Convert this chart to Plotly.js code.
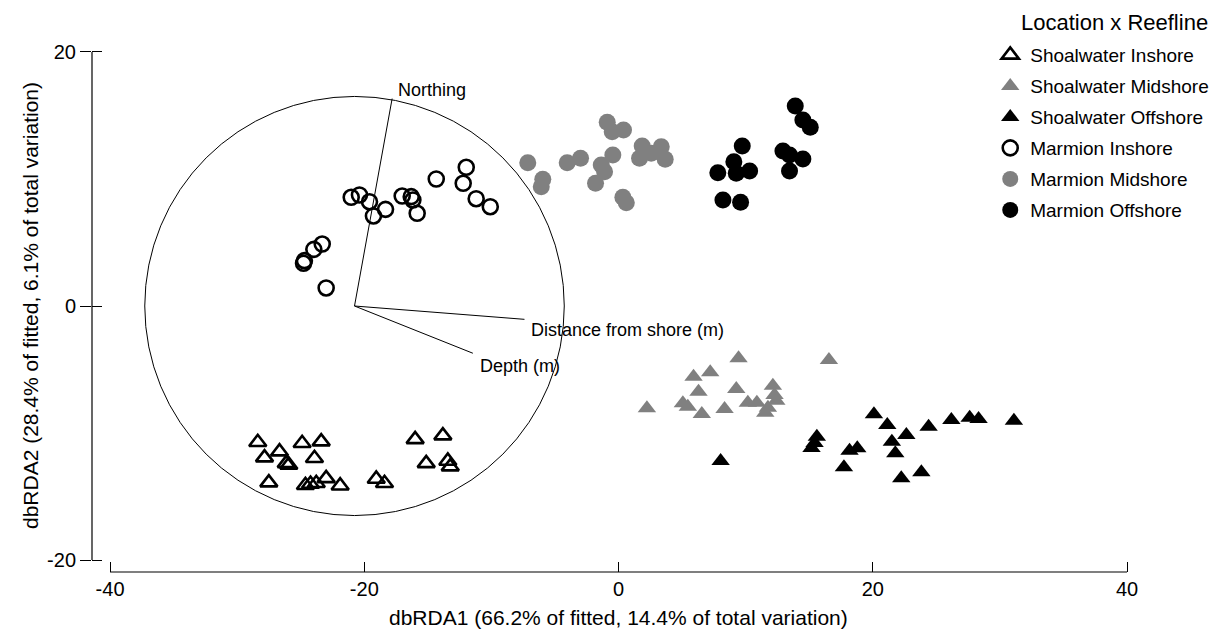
<!DOCTYPE html>
<html>
<head>
<meta charset="utf-8">
<script src="https://cdn.plot.ly/plotly-3.0.1.min.js"></script>
<style>html,body{margin:0;padding:0;background:#fff;}#chart{width:1229px;height:638px;}</style>
</head>
<body>
<div id="chart"></div>
<script>
// ---- Data ----
const swInshoreX = [-28.38,-27.85,-26.67,-26.14,-25.94,-24.89,-23.39,-23.92,-27.51,-24.63,-24.23,-23.78,-23.00,-21.90,-19.06,-18.41,-16.00,-13.82,-15.13,-13.43,-13.24];
const swInshoreY = [-10.73,-11.94,-11.47,-12.39,-12.52,-10.81,-10.68,-11.99,-13.91,-14.12,-14.02,-13.96,-13.57,-14.15,-13.62,-13.96,-10.50,-10.21,-12.39,-12.20,-12.65];

const swMidX = [2.23,5.90,7.21,9.44,16.55,6.29,5.06,5.45,6.55,8.34,9.26,10.17,10.88,12.14,12.27,12.41,11.75,11.54];
const swMidY = [-8.06,-5.57,-5.22,-4.12,-4.25,-6.75,-7.66,-7.93,-8.50,-8.11,-6.54,-7.61,-7.61,-6.28,-7.01,-7.46,-8.01,-8.40];

const swOffX = [20.09,21.14,22.64,21.50,21.77,24.39,26.18,27.62,28.32,31.10,15.60,15.42,15.18,18.17,18.78,17.73,22.24,23.82,8.03];
const swOffY = [-8.53,-9.37,-10.16,-10.69,-11.60,-9.50,-8.98,-8.80,-8.90,-9.03,-10.29,-10.79,-11.18,-11.39,-11.20,-12.70,-13.57,-13.09,-12.20];

const mInshoreX = [-21.03,-20.38,-19.59,-19.28,-18.33,-17.02,-16.31,-16.18,-15.84,-14.34,-11.98,-12.22,-11.20,-10.09,-23.31,-23.97,-24.71,-24.78,-23.00];
const mInshoreY = [8.56,8.74,8.21,7.09,7.61,8.66,8.61,8.35,7.30,10.00,10.92,9.66,8.45,7.82,4.88,4.46,3.57,3.36,1.42];

const mMidX = [-0.89,-0.50,0.39,-7.14,-4.04,-2.99,-0.45,-1.36,-1.10,-1.81,-5.96,-6.08,0.34,0.61,1.86,3.36,1.65,2.57,3.67];
const mMidY = [14.46,13.72,13.86,11.28,11.28,11.63,11.89,11.10,10.57,9.66,9.98,9.39,8.56,8.13,12.60,12.54,11.63,12.02,11.55];

const mOffX = [13.90,14.50,15.08,9.73,12.93,13.45,14.50,13.45,9.07,7.81,9.26,10.31,8.21,9.60];
const mOffY = [15.75,14.65,14.07,12.60,12.20,11.89,11.57,10.63,11.36,10.50,10.45,10.63,8.35,8.17];

// vector overlay (correlation circle)
const circleCenter = [-20.77, 0];
const circleRadius = 16.5;
const vecNames = ["Northing", "Distance from shore (m)", "Depth (m)"];
const vecDX = [2.96, 13.37, 9.31];
const vecDY = [16.33, -1.05, -3.72];
const vecLabelShift = [[4, 9], [5, -11], [5, -13]];

const seriesNames = ["Shoalwater Inshore","Shoalwater Midshore","Shoalwater Offshore","Marmion Inshore","Marmion Midshore","Marmion Offshore"];
const legendTitle = "Location x Reefline";
const xTitle = "dbRDA1 (66.2% of fitted, 14.4% of total variation)";
const yTitle = "dbRDA2 (28.4% of fitted, 6.1% of total variation)";
const xTicks = [-40,-20,0,20,40];
const yTicks = [-20,0,20];

// ---- Build ----
const FONT = "Liberation Sans, Arial, sans-serif";
const grey = "#808080";
function pts(name, x, y, symbol, color, open, gi) {
  const tri = symbol.indexOf("triangle") === 0;
  return {
    type: "scatter", mode: "markers", name: name, x: x, y: y,
    legendgroup: "g" + gi,
    marker: open
      ? {symbol: symbol, size: 15, color: color, line: {color: color, width: 2.6}}
      : {symbol: symbol, size: tri ? 16 : 17, color: color, line: {width: 0}},
    hoverinfo: "x+y"
  };
}

const traces = [];
for (let i = 0; i < vecNames.length; i++) {
  traces.push({
    type: "scatter", mode: "lines", showlegend: false, hoverinfo: "skip",
    x: [circleCenter[0], circleCenter[0] + vecDX[i]],
    y: [circleCenter[1], circleCenter[1] + vecDY[i]],
    line: {color: "#000", width: 1}
  });
}
traces.push(pts(seriesNames[0], swInshoreX, swInshoreY, "triangle-up-open", "#000", true, 0));
traces.push(pts(seriesNames[1], swMidX, swMidY, "triangle-up", grey, false, 1));
traces.push(pts(seriesNames[2], swOffX, swOffY, "triangle-up", "#000", false, 2));
traces.push(pts(seriesNames[3], mInshoreX, mInshoreY, "circle-open", "#000", true, 3));
traces.push(pts(seriesNames[4], mMidX, mMidY, "circle", grey, false, 4));
traces.push(pts(seriesNames[5], mOffX, mOffY, "circle", "#000", false, 5));

const annotations = vecNames.map((n, i) => ({
  x: circleCenter[0] + vecDX[i], y: circleCenter[1] + vecDY[i],
  xref: "x", yref: "y", text: n, showarrow: false,
  xanchor: "left", yanchor: "middle",
  xshift: vecLabelShift[i][0], yshift: vecLabelShift[i][1],
  font: {family: FONT, size: 18, color: "#000"}
}));
// axis titles and legend title as annotations (so they sit where the reference has them)
annotations.push({x: 0, y: -0.0804, xref: "x", yref: "paper", text: xTitle, showarrow: false,
  xanchor: "center", yanchor: "middle", font: {family: FONT, size: 21, color: "#000"}});
annotations.push({x: -0.0545, y: 0, xref: "paper", yref: "y", text: yTitle, showarrow: false, textangle: -90,
  xanchor: "center", yanchor: "middle", font: {family: FONT, size: 21, color: "#000"}});
annotations.push({x: 0.9833, y: 0.9615, xref: "paper", yref: "paper", text: legendTitle, showarrow: false,
  xanchor: "right", yanchor: "middle", font: {family: FONT, size: 22, color: "#000"}});

const shapes = [
  {type: "circle", xref: "x", yref: "y",
   x0: circleCenter[0] - circleRadius, x1: circleCenter[0] + circleRadius,
   y0: circleCenter[1] - circleRadius, y1: circleCenter[1] + circleRadius,
   line: {color: "#000", width: 1}, layer: "below"},
  {type: "line", xref: "x", yref: "paper", x0: xTicks[0], x1: xTicks[xTicks.length-1], y0: 0, y1: 0, line: {color: "#000", width: 1.2}},
  {type: "line", xref: "paper", yref: "y", x0: 0, x1: 0, y0: yTicks[0], y1: yTicks[yTicks.length-1], line: {color: "#000", width: 1.2}}
];

const layout = {
  width: 1229, height: 638,
  margin: {l: 92, r: 0, t: 0, b: 66},
  paper_bgcolor: "#fff", plot_bgcolor: "rgba(0,0,0,0)",
  font: {family: FONT, color: "#000"},
  showlegend: true,
  xaxis: {
    range: [-41.42, 48.02], showgrid: false, zeroline: false, showline: false,
    tickvals: xTicks, ticktext: xTicks.map(String),
    ticks: "inside", ticklen: 10, tickwidth: 1, tickcolor: "#000",
    tickfont: {family: FONT, size: 20}, ticklabelstandoff: 3
  },
  yaxis: {
    range: [-20.945, 24.094], showgrid: false, zeroline: false, showline: false,
    tickvals: yTicks, ticktext: yTicks.map(String),
    ticks: "outside", ticklen: 11, tickwidth: 1, tickcolor: "#000",
    tickfont: {family: FONT, size: 20}
  },
  yaxis2: {
    overlaying: "y", side: "left", range: [-20.945, 24.094], matches: "y",
    showgrid: false, zeroline: false, showline: false, showticklabels: false,
    tickvals: yTicks, ticks: "inside", ticklen: 10, tickwidth: 1, tickcolor: "#000"
  },
  legend: {
    x: 0.790, y: 0.937, xanchor: "left", yanchor: "top",
    bgcolor: "rgba(0,0,0,0)", borderwidth: 0,
    font: {family: FONT, size: 19, color: "#000"},
    tracegroupgap: 3.3, itemsizing: "trace"
  },
  shapes: shapes,
  annotations: annotations
};

traces.push({type: "scatter", x: [null], y: [null], yaxis: "y2", showlegend: false, hoverinfo: "skip"});

Plotly.newPlot("chart", traces, layout, {displayModeBar: false, staticPlot: true});
</script>
</body>
</html>
